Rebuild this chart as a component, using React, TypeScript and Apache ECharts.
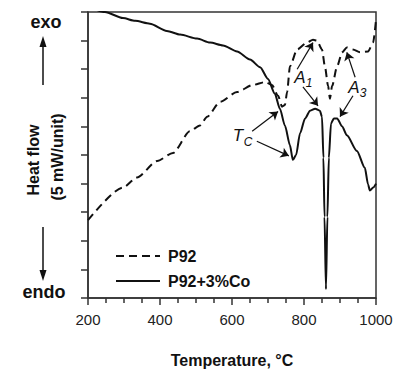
import React, { useEffect, useRef } from "react";
import * as echarts from "echarts";

const FONT = "'Liberation Sans', Arial, Helvetica, sans-serif";

const xTicks = [200, 400, 600, 800, 1000];

const p92T = [200, 297, 336, 392, 436, 483, 511, 531, 567, 614, 658, 692, 711, 728, 739, 747, 753, 761, 781, 808, 825, 836, 850, 858, 867, 872, 878, 892, 906, 919, 936, 956, 978, 992, 1000];
const p92Y = [2.72, 3.86, 4.21, 4.79, 5.07, 5.83, 6.03, 6.34, 6.86, 7.2, 7.45, 7.55, 7.45, 7.07, 6.69, 6.75, 7.2, 8.1, 8.69, 8.93, 9.03, 9.0, 8.69, 8.1, 7.41, 6.97, 7.41, 8.1, 8.59, 8.76, 8.69, 8.59, 8.62, 8.93, 9.72];

const coT = [200, 247, 297, 331, 372, 419, 456, 503, 539, 575, 614, 650, 678, 700, 719, 733, 747, 761, 769, 778, 789, 803, 817, 831, 844, 850, 854, 857, 861, 865, 869, 875, 883, 892, 906, 919, 947, 969, 978, 983, 992, 1000];
const coY = [10.2, 10.0, 9.79, 9.69, 9.59, 9.34, 9.21, 9.07, 8.93, 8.83, 8.62, 8.34, 8.07, 7.66, 7.14, 6.62, 6.03, 5.34, 4.83, 5.0, 5.76, 6.28, 6.55, 6.62, 6.55, 6.34, 4.9, 2.83, 0.31, 2.83, 4.9, 6.1, 6.28, 6.28, 6.0, 5.69, 5.14, 4.55, 3.97, 3.76, 3.86, 4.0];

// annotation arrows: [fromT, fromY, toT, toY]
const arrows = [
  [656, 5.83, 728, 6.52],
  [669, 5.48, 758, 4.97],
  [781, 8.0, 825, 8.93],
  [797, 7.38, 839, 6.72],
  [942, 7.72, 919, 8.59],
  [936, 7.07, 900, 6.34],
];

const zip = (a: number[], b: number[]) => a.map((v, i) => [v, b[i]]);

export default function App() {
  const ref = useRef<HTMLDivElement>(null);
  useEffect(() => {
    if (!ref.current) return;
    const chart = echarts.init(ref.current, null, { renderer: "svg" });
    const ink = "#111";
    const txt = (x: number, y: number, text: string, size: number, extra: any = {}, rot = 0) => ({
      type: "text",
      x,
      y,
      rotation: rot,
      style: { text, fontSize: size, fontFamily: FONT, fill: ink, align: "center", verticalAlign: "middle", ...extra },
    });
    chart.setOption({
      animation: false,
      backgroundColor: "#fff",
      grid: { left: 88, top: 12, right: 22, bottom: 71, show: true, borderColor: "#333", borderWidth: 1.5, backgroundColor: "transparent" },
      legend: {
        orient: "vertical",
        left: 110,
        top: 243,
        itemWidth: 44,
        itemHeight: 14,
        itemGap: 9,
        itemStyle: { opacity: 0 },
        textStyle: { fontSize: 16, fontWeight: "bold", color: ink, fontFamily: FONT, padding: [0, 0, 0, 3] },
        data: ["P92", "P92+3%Co"],
      },
      xAxis: {
        type: "value",
        min: 200,
        max: 1000,
        interval: 200,
        name: "Temperature, °C",
        nameLocation: "middle",
        nameGap: 54,
        nameTextStyle: { fontSize: 16, fontWeight: "bold", color: ink, fontFamily: FONT },
        axisLine: { lineStyle: { color: "#333", width: 1.5 } },
        axisTick: { show: true, length: 7, lineStyle: { color: "#333", width: 1.5 } },
        minorTick: { show: true, splitNumber: 4, length: 5, lineStyle: { color: "#333", width: 1.5 } },
        axisLabel: { fontSize: 15, color: "#222", fontFamily: FONT, margin: 14, formatter: (v: number) => String(v) },
        splitLine: { show: false },
      },
      yAxis: {
        type: "value",
        min: 0,
        max: 10,
        interval: 1,
        axisLine: { lineStyle: { color: "#333", width: 1.5 } },
        axisTick: { show: true, length: 7, lineStyle: { color: "#333", width: 1.5 } },
        axisLabel: { show: false },
        splitLine: { show: false },
      },
      series: [
        {
          name: "P92",
          type: "line",
          data: zip(p92T, p92Y),
          symbol: "none",
          smooth: 0.25,
          smoothMonotone: "x",
          clip: true,
          lineStyle: { color: ink, width: 2, type: [8, 5] },
          itemStyle: { color: ink },
          silent: true,
          markLine: {
            silent: true,
            symbol: ["none", "arrow"],
            symbolSize: 8,
            label: { show: false },
            lineStyle: { color: ink, width: 1.2, type: "solid" },
            data: arrows.map((a) => [{ coord: [a[0], a[1]] }, { coord: [a[2], a[3]] }]),
          },
        },
        {
          name: "P92+3%Co",
          type: "line",
          data: zip(coT, coY),
          symbol: "none",
          smooth: 0.25,
          smoothMonotone: "x",
          clip: true,
          lineStyle: { color: ink, width: 2 },
          itemStyle: { color: ink },
          silent: true,
        },
      ],
      graphic: [
        txt(46, 22, "exo", 18, { fontWeight: "bold" }),
        txt(44, 292, "endo", 18, { fontWeight: "bold" }),
        txt(33, 160, "Heat flow", 16, { fontWeight: "bold" }, Math.PI / 2),
        txt(57, 157, "(5 mW/unit)", 16, { fontWeight: "bold" }, Math.PI / 2),
        { type: "line", shape: { x1: 43, y1: 85, x2: 43, y2: 44 }, style: { stroke: ink, lineWidth: 1.5 } },
        { type: "polygon", shape: { points: [[43, 36], [39.5, 47], [46.5, 47]] }, style: { fill: ink } },
        { type: "line", shape: { x1: 43, y1: 227, x2: 43, y2: 272 }, style: { stroke: ink, lineWidth: 1.5 } },
        { type: "polygon", shape: { points: [[43, 281], [39.5, 270], [46.5, 270]] }, style: { fill: ink } },
        txt(238, 135, "T", 17, { fontStyle: "italic" }),
        txt(248, 142, "C", 12, { fontStyle: "italic" }),
        txt(300, 77, "A", 17, { fontStyle: "italic" }),
        txt(309, 83, "1", 12, { fontStyle: "italic" }),
        txt(354, 87, "A", 17, { fontStyle: "italic" }),
        txt(363, 93, "3", 12, { fontStyle: "italic" }),
      ],
    });
    return () => chart.dispose();
  }, []);
  return <div ref={ref} style={{ width: 398, height: 373, position: "absolute", left: 0, top: 0 }} />;
}
